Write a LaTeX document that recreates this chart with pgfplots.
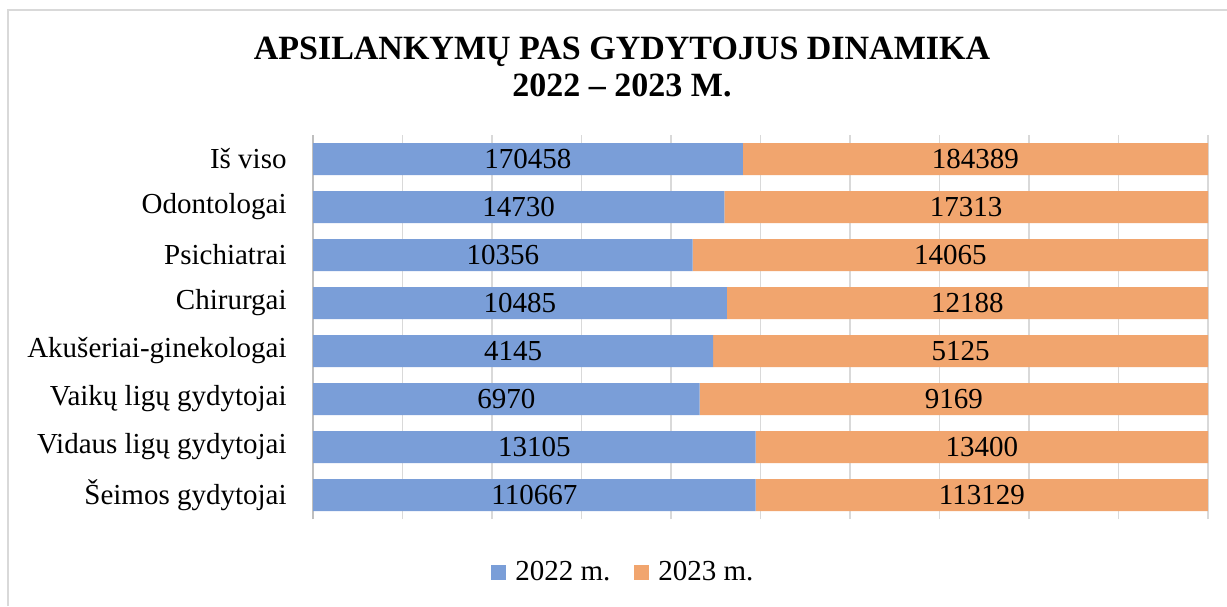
\documentclass[border=0pt]{standalone}
\usepackage{pgfplots}
\pgfplotsset{compat=1.18}
\usepackage{pgfplotstable}
\usepackage{fontspec}
\setmainfont{Liberation Serif}

\definecolor{blue22}{RGB}{122,158,216}
\definecolor{orange23}{RGB}{241,165,110}
\definecolor{gridgray}{RGB}{217,217,217}
\definecolor{axisgray}{RGB}{191,191,191}

% y: 0 = bottom row
\pgfplotstableread[col sep=comma]{
y,a,b
0,110667,113129
1,13105,13400
2,6970,9169
3,4145,5125
4,10485,12188
5,10356,14065
6,14730,17313
7,170458,184389
}\visits

\newcommand{\lbl}{\fontsize{14.5}{17}\selectfont}

\begin{document}
\begin{tikzpicture}
\useasboundingbox (0pt,0pt) rectangle (613.5pt,303pt);
\fill[white] (0pt,0pt) rectangle (613.5pt,303pt);
\draw[gridgray, line width=0.8pt] (4pt,0pt) -- (4pt,298pt) -- (613.5pt,298pt);

\node[font=\bfseries\fontsize{17}{18.5}\selectfont, align=center] at (311pt,269.5pt)
  {APSILANKYMŲ PAS GYDYTOJUS DINAMIKA\\2022 – 2023 M.};

\begin{axis}[
  at={(156.5pt,43.5pt)}, anchor=south west,
  width=447.5pt, height=192pt, scale only axis,
  xmin=0, xmax=100, ymin=-0.5, ymax=7.5,
  xbar stacked, bar width=16pt,
  xtick={0,10,...,100}, xticklabels={},
  xmajorgrids, major grid style={gridgray, line width=0.7pt},
  ytick={0,...,7},
  yticklabels={{Šeimos gydytojai},{Vidaus ligų gydytojai},{Vaikų ligų gydytojai},{Akušeriai-ginekologai},{Chirurgai},{Psichiatrai},{Odontologai},{Iš viso}},
  y tick label style={font=\lbl, inner sep=0pt},
  yticklabel shift=13pt,
  major tick length=0pt,
  axis lines*=left,
  x axis line style={draw=none},
  y axis line style={draw=axisgray, line width=1pt},
  legend style={at={(0.348,-0.14)}, anchor=center, draw=none, fill=none,
    legend columns=2, font=\lbl,
    /tikz/every odd column/.append style={column sep=2.5pt},
    /tikz/every even column/.append style={column sep=10pt}},
  legend image code/.code={\fill[#1] (0pt,-3.75pt) rectangle (7.5pt,3.75pt);},
]
\addplot[fill=blue22, draw=none] table[x expr={\thisrow{a}/(\thisrow{a}+\thisrow{b})*100}, y=y]{\visits};
\addplot[fill=orange23, draw=none] table[x expr={\thisrow{b}/(\thisrow{a}+\thisrow{b})*100}, y=y]{\visits};
\legend{2022 m., 2023 m.}
\end{axis}

\begin{axis}[
  at={(156.5pt,43.5pt)}, anchor=south west,
  width=447.5pt, height=192pt, scale only axis,
  xmin=0, xmax=100, ymin=-0.5, ymax=7.5,
  hide axis,
  nodes near coords style={anchor=center, font=\lbl},
]
\addplot[draw=none, mark=none, nodes near coords, point meta=explicit symbolic]
  table[x expr={\thisrow{a}/(\thisrow{a}+\thisrow{b})*50}, y=y, meta=a]{\visits};
\addplot[draw=none, mark=none, nodes near coords, point meta=explicit symbolic]
  table[x expr={50+\thisrow{a}/(\thisrow{a}+\thisrow{b})*50}, y=y, meta=b]{\visits};
\end{axis}
\end{tikzpicture}
\end{document}
